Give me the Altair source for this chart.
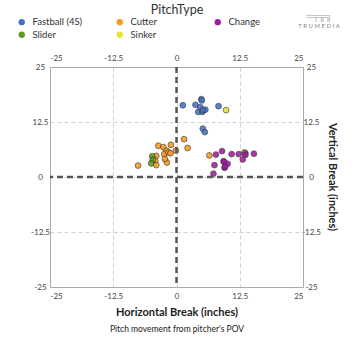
import altair as alt
import pandas as pd

FONT = "Lato"

pitch_order = ["Fastball (4S)", "Cutter", "Change", "Slider", "Sinker"]
pitch_colors = ["#4472c4", "#f79a1e", "#a21aa3", "#5f9a1c", "#e6e62c"]

fb_x = [1.25, 3.75, 4.9, 5.0, 4.7, 4.3, 5.1, 5.7, 5.2, 8.3, 5.2, 5.6]
fb_y = [16.3, 16.4, 17.7, 17.4, 15.9, 14.8, 14.8, 15.3, 15.2, 16.1, 11.0, 10.2]

ct_x = [-3.6, -2.6, -1.1, -2.0, -2.4, -1.6, -1.2, -0.1, -4.0, -4.2, -4.0, -1.9, -7.6, 1.5, 2.2, 6.5, -2.3]
ct_y = [7.1, 6.8, 7.3, 6.0, 5.2, 5.6, 5.4, 6.0, 4.8, 3.7, 2.7, 3.3, 2.6, 8.6, 6.6, 4.9, 4.1]

sl_x = [-4.8, -4.7, -5.0]
sl_y = [4.7, 3.9, 3.1]

sk_x = [9.8, 13.4]
sk_y = [15.2, 5.6]

ch_x = [7.8, 9.0, 10.9, 12.3, 13.6, 13.1, 15.3, 7.5, 9.3, 10.1, 9.5, 7.3, 9.4, 9.6, 13.6]
ch_y = [5.1, 5.9, 5.2, 5.2, 5.4, 4.0, 5.3, 2.7, 3.6, 3.0, 2.1, 0.75, 3.4, 2.3, 5.0]

tick_vals = [-25, -12.5, 0, 12.5, 25]

rows = []
for name, xs, ys in [("Fastball (4S)", fb_x, fb_y), ("Cutter", ct_x, ct_y),
                     ("Slider", sl_x, sl_y), ("Sinker", sk_x, sk_y),
                     ("Change", ch_x, ch_y)]:
    for a, b in zip(xs, ys):
        rows.append({"hb": a, "vb": b, "PitchType": name})
df = pd.DataFrame(rows)

xscale = alt.Scale(domain=[-25, 25], nice=False, zero=False)
yscale = alt.Scale(domain=[-25, 25], nice=False, zero=False)

axis_common = dict(
    values=tick_vals, labelExpr="toString(datum.value)", ticks=False,
    labelFont=FONT, labelFontSize=8, labelColor="#444",
    domainColor="#aaa", domainWidth=1, title=None,
)

points = alt.Chart(df).mark_circle(
    size=34, opacity=0.88, stroke="#333", strokeWidth=0.7
).encode(
    x=alt.X("hb:Q", scale=xscale,
            axis=alt.Axis(orient="bottom", grid=True, gridDash=[4, 3], gridColor="#d0d0d0",
                          labelPadding=5, **axis_common)),
    y=alt.Y("vb:Q", scale=yscale,
            axis=alt.Axis(orient="left", grid=True, gridDash=[4, 3], gridColor="#d0d0d0",
                          labelPadding=10, labelAlign="center", **axis_common)),
    color=alt.Color("PitchType:N",
                    scale=alt.Scale(domain=pitch_order, range=pitch_colors),
                    sort=pitch_order,
                    legend=alt.Legend(
                        title=None, orient="none", legendX=-33, legendY=-50,
                        direction="horizontal", columns=3, gridAlign="all",
                        columnPadding=32, rowPadding=2, symbolType="circle",
                        symbolSize=40, symbolStrokeWidth=0, symbolOpacity=1,
                        labelFont=FONT, labelFontSize=9.5, labelColor="#333",
                        labelOffset=6, padding=0)),
)

zero_v = alt.Chart(pd.DataFrame({"z": [0]})).mark_rule(
    color="#555", strokeWidth=2.5, strokeDash=[6, 4]
).encode(
    x=alt.X("z:Q", scale=xscale,
            axis=alt.Axis(orient="top", grid=False, labelPadding=5, **axis_common)),
)

zero_h = alt.Chart(pd.DataFrame({"z": [0]})).mark_rule(
    color="#555", strokeWidth=2.5, strokeDash=[6, 4]
).encode(
    y=alt.Y("z:Q", scale=yscale,
            axis=alt.Axis(orient="right", grid=False, labelPadding=8, labelAlign="center",
                          **axis_common)),
)

def label(txt, x, y, size, weight="normal", color="#333", angle=0):
    return alt.Chart(pd.DataFrame({"t": [txt]})).mark_text(
        font=FONT, fontSize=size, fontWeight=weight, color=color, angle=angle,
        align="center", baseline="middle"
    ).encode(x=alt.value(x), y=alt.value(y), text="t:N")

title = label("PitchType", 127, -57, 12.5)
xtitle = label("Horizontal Break (inches)", 127, 246, 11, weight="bold", color="#222")
subtitle = label("Pitch movement from pitcher's POV", 127, 262, 8.5, color="#222")
ytitle = label("Vertical Break (inches)", 282, 110, 11, weight="bold", color="#222", angle=90)
logo = label("T R U M E D I A", 269, -41, 6, color="#888")
logo_icon = label("═╤╦╗", 269, -51, 9, color="#999")

chart = alt.layer(
    points, zero_v, zero_h, title, xtitle, subtitle, ytitle, logo, logo_icon
).resolve_axis(x="independent", y="independent").properties(
    width=253, height=220,
    autosize=alt.AutoSizeParams(type="none"),
    padding={"left": 50, "top": 67, "right": 51, "bottom": 67},
).configure_view(stroke=None).configure(background="white")

chart.save("out.html", embed_options={"renderer": "svg", "actions": False})
